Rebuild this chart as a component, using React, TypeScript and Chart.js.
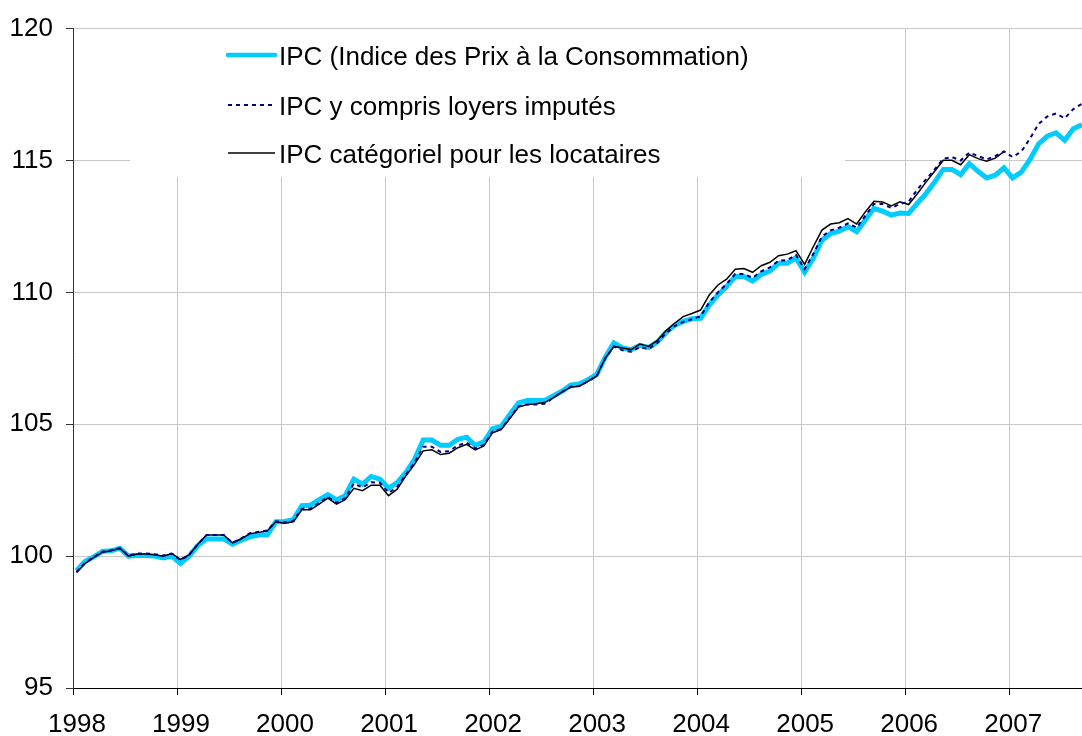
import React, { useEffect, useRef } from "react";
import { Chart, registerables } from "chart.js";

Chart.register(...registerables);

// Monthly index values, Jan 1998 .. Sep 2007
const START_YEAR = 1998;
const YEAR_TICKS = [1998, 1999, 2000, 2001, 2002, 2003, 2004, 2005, 2006, 2007];
const Y_TICKS = [95, 100, 105, 110, 115, 120];

const LABELS = [
  "IPC (Indice des Prix à la Consommation)",
  "IPC y compris loyers imputés",
  "IPC catégoriel pour les locataires",
];

const ipc = [
  99.45, 99.8, 99.97, 100.18, 100.2, 100.3, 100.0, 100.02, 100.02, 100.0, 99.93, 100.0,
  99.72, 100.0, 100.4, 100.65, 100.65, 100.65, 100.45, 100.6, 100.73, 100.8, 100.8, 101.3,
  101.31, 101.38, 101.91, 101.93, 102.14, 102.33, 102.13, 102.29, 102.92, 102.73, 103.02, 102.92,
  102.57, 102.79, 103.17, 103.67, 104.4, 104.4, 104.2, 104.2, 104.43, 104.51, 104.2, 104.33,
  104.83, 104.92, 105.37, 105.81, 105.9, 105.9, 105.9, 106.07, 106.25, 106.48, 106.53, 106.69,
  106.88, 107.54, 108.08, 107.89, 107.83, 107.99, 107.91, 108.12, 108.48, 108.75, 108.9, 109.0,
  109.02, 109.52, 109.9, 110.22, 110.6, 110.6, 110.43, 110.68, 110.81, 111.1, 111.1, 111.31,
  110.76, 111.29, 111.98, 112.23, 112.32, 112.49, 112.3, 112.74, 113.18, 113.08, 112.93, 113.01,
  112.99, 113.37, 113.74, 114.18, 114.66, 114.66, 114.46, 114.88, 114.59, 114.34, 114.44, 114.72,
  114.34, 114.56, 115.04, 115.63, 115.92, 116.05, 115.76, 116.2, 116.35,
];

const ipcLoyers = [
  99.4, 99.75, 99.96, 100.17, 100.22, 100.3, 100.02, 100.1, 100.1, 100.07, 100.02, 100.1,
  99.85, 100.05, 100.45, 100.8, 100.8, 100.8, 100.5, 100.67, 100.87, 100.92, 100.97, 101.32,
  101.28, 101.33, 101.8, 101.8, 102.02, 102.25, 102.02, 102.2, 102.75, 102.6, 102.8, 102.78,
  102.4, 102.62, 103.1, 103.55, 104.15, 104.15, 103.95, 103.98, 104.2, 104.3, 104.08, 104.22,
  104.72, 104.82, 105.25, 105.68, 105.75, 105.75, 105.78, 106.0, 106.22, 106.42, 106.45, 106.63,
  106.82, 107.5, 107.95, 107.8, 107.75, 107.92, 107.85, 108.08, 108.45, 108.72, 108.88, 108.98,
  109.1, 109.62, 110.0, 110.32, 110.7, 110.7, 110.55, 110.8, 110.95, 111.2, 111.22, 111.42,
  110.88, 111.45, 112.12, 112.35, 112.45, 112.62, 112.45, 112.9, 113.35, 113.35, 113.2, 113.35,
  113.43, 113.9, 114.28, 114.66, 115.07, 115.13, 115.0, 115.3, 115.17, 115.04, 115.17, 115.34,
  115.13, 115.34, 115.83, 116.39, 116.67, 116.78, 116.6, 116.95, 117.15,
];

const ipcLocataires = [
  99.38, 99.72, 99.95, 100.15, 100.2, 100.3, 100.0, 100.08, 100.08, 100.05, 100.0, 100.1,
  99.88, 100.05, 100.45, 100.8, 100.8, 100.8, 100.5, 100.65, 100.85, 100.9, 100.95, 101.3,
  101.25, 101.3, 101.76, 101.76, 101.97, 102.2, 101.97, 102.14, 102.57, 102.48, 102.69, 102.69,
  102.29, 102.54, 103.04, 103.48, 103.99, 104.03, 103.85, 103.9, 104.11, 104.24, 104.03, 104.18,
  104.68, 104.8, 105.22, 105.65, 105.75, 105.78, 105.82, 106.0, 106.23, 106.4, 106.44, 106.63,
  106.82, 107.51, 107.95, 107.89, 107.83, 108.04, 107.95, 108.17, 108.54, 108.83, 109.08, 109.2,
  109.33, 109.9, 110.28, 110.5, 110.88, 110.9, 110.76, 111.01, 111.14, 111.39, 111.45, 111.58,
  111.06, 111.73, 112.36, 112.59, 112.64, 112.8, 112.59, 113.05, 113.45, 113.43, 113.28, 113.43,
  113.33, 113.74, 114.18, 114.59, 115.01, 115.01, 114.84, 115.22, 115.07, 114.97, 115.09, 115.34,
];

const FONT = "'Liberation Sans', Arial, Helvetica, sans-serif";
const CYAN = "#00ccff";
const NAVY = "#000080";
const GRID = "#c8c8c8";

const toPoints = (arr: number[]) => arr.map((v, i) => ({ x: i + 0.4, y: v }));

const legendPlugin = {
  id: "boxLegend",
  beforeDatasetsDraw(chart: any) {
    const ctx = chart.ctx;
    ctx.save();
    ctx.fillStyle = "#ffffff";
    ctx.fillRect(130, 29, 715, 148);
    const rows = [
      { y: 55, color: CYAN, width: 4.5, dash: [] as number[] },
      { y: 105, color: NAVY, width: 2, dash: [4, 4] },
      { y: 153, color: "#000000", width: 1.5, dash: [] as number[] },
    ];
    rows.forEach((r, idx) => {
      ctx.beginPath();
      ctx.setLineDash(r.dash);
      ctx.strokeStyle = r.color;
      ctx.lineWidth = r.width;
      ctx.lineCap = idx === 0 ? "round" : "butt";
      ctx.moveTo(228, r.y);
      ctx.lineTo(275, r.y);
      ctx.stroke();
      ctx.setLineDash([]);
      ctx.fillStyle = "#000";
      ctx.font = `26px ${FONT}`;
      ctx.textBaseline = "alphabetic";
      ctx.textAlign = "left";
      ctx.fillText(chart.data.datasets[idx].label, 279, r.y + 10);
    });
    ctx.restore();
  },
};

export default function App() {
  const ref = useRef<HTMLCanvasElement>(null);
  useEffect(() => {
    document.body.style.margin = "0";
    if (!ref.current) return;
    const chart = new Chart(ref.current, {
      type: "line",
      data: {
        datasets: [
          {
            label: LABELS[0],
            data: toPoints(ipc),
            borderColor: CYAN,
            borderWidth: 5,
            pointRadius: 0,
            tension: 0,
            order: 3,
          },
          {
            label: LABELS[1],
            data: toPoints(ipcLoyers),
            borderColor: NAVY,
            borderWidth: 2,
            borderDash: [4, 4],
            pointRadius: 0,
            tension: 0,
            order: 1,
          },
          {
            label: LABELS[2],
            data: toPoints(ipcLocataires),
            borderColor: "#000000",
            borderWidth: 1.5,
            pointRadius: 0,
            tension: 0,
            order: 2,
          },
        ],
      },
      options: {
        animation: false,
        responsive: false,
        devicePixelRatio: 1,
        layout: { padding: { top: 26, right: 0, left: 0, bottom: 0 } },
        plugins: { legend: { display: false }, tooltip: { enabled: false } },
        scales: {
          x: {
            type: "linear",
            min: 0,
            max: 116.4,
            afterBuildTicks: (scale: any) => {
              scale.ticks = YEAR_TICKS.map((y) => ({ value: (y - START_YEAR) * 12 }));
            },
            afterFit: (scale: any) => {
              scale.height = 48;
            },
            ticks: {
              callback: (v: any) => String(START_YEAR + Math.round(Number(v) / 12)),
              font: { family: FONT, size: 26 },
              color: "#000",
              padding: 14,
              labelOffset: 4,
              maxRotation: 0,
              autoSkip: false,
            },
            grid: { color: GRID, lineWidth: 1, tickColor: "#000", tickLength: 7 },
            border: { color: "#000", width: 1 },
          },
          y: {
            type: "linear",
            min: 95,
            max: 120,
            afterBuildTicks: (scale: any) => {
              scale.ticks = Y_TICKS.map((v) => ({ value: v }));
            },
            afterFit: (scale: any) => {
              scale.width = 73;
            },
            ticks: {
              font: { family: FONT, size: 26 },
              color: "#000",
              padding: 13,
            },
            grid: { color: GRID, lineWidth: 1, tickColor: "#333", tickLength: 7 },
            border: { color: "#333", width: 1 },
          },
        },
      },
      plugins: [legendPlugin],
    });
    return () => chart.destroy();
  }, []);
  return (
    <div style={{ width: 1082, height: 736 }}>
      <canvas ref={ref} width={1082} height={736} />
    </div>
  );
}
